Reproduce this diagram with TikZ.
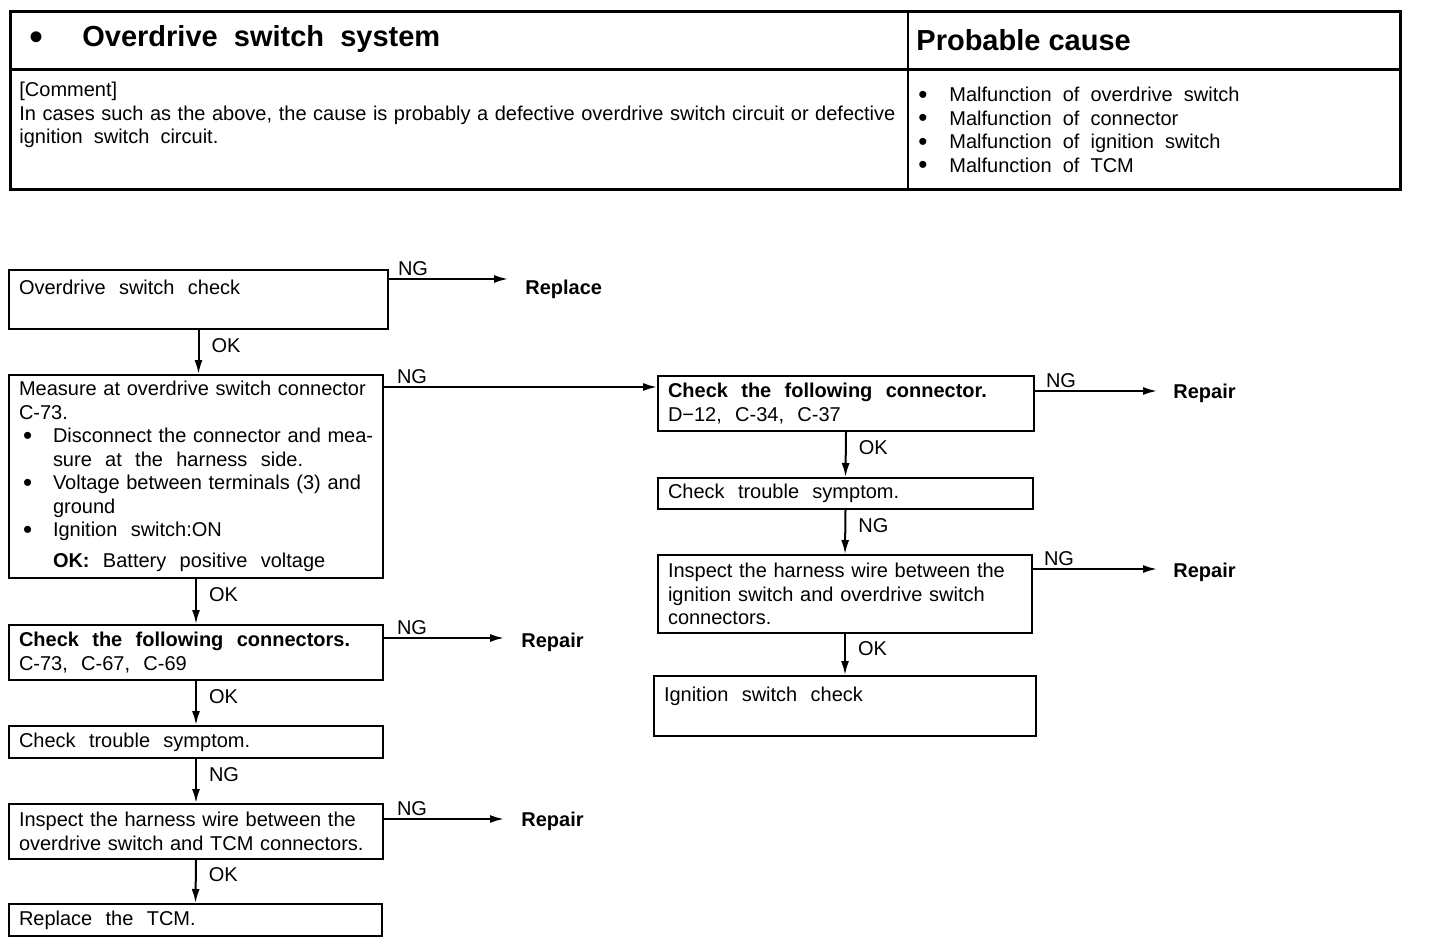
\documentclass[tikz,border=0pt]{standalone}
\usepackage{fontspec}
\setmainfont{Liberation Sans}
\usetikzlibrary{arrows.meta,positioning}

\newcommand{\jline}[2]{\makebox[#1][s]{#2}}
\newcommand{\dotmark}{\smash{\raisebox{-0.6pt}{\fontsize{13}{12}\selectfont\textbullet}}}
\newcommand{\bitem}{\hspace*{2pt}\makebox[15pt][l]{\dotmark}}
\newcommand{\bpad}{\hspace*{17pt}}

\tikzset{
  box/.style={draw, line width=1pt, anchor=north west, align=left,
    inner xsep=5pt, inner ysep=2pt, font=\fontsize{10}{11.75}\selectfont},
  flow/.style={line width=1pt, -{Latex[length=7pt,width=4pt]}},
  tag/.style={font=\fontsize{10}{12}\selectfont, inner sep=1pt},
  result/.style={font=\fontsize{10}{12}\selectfont\bfseries, anchor=west, inner sep=0pt},
  head/.style={font=\fontsize{14.5}{16}\selectfont\bfseries, inner sep=0pt},
  body/.style={font=\fontsize{10}{11.75}\selectfont, align=left, inner sep=0pt},
}

\begin{document}
\begin{tikzpicture}[x=0.5pt, y=-0.5pt]
\fill[white] (0,0) rectangle (1440,952);
\useasboundingbox (0,0) rectangle (1440,952);

% header table
\draw[line width=1.5pt] (10,12) rectangle (1400,190);
\draw[line width=1pt] (908,12) -- (908,190);
\draw[line width=1.5pt] (10,70) -- (1400,70);

\node[head, font=\fontsize{20}{20}\selectfont, anchor=base] (hdot) at (37,51) {\textbullet};
\node[head, anchor=base west] (htitle) at (82,47) {Overdrive\ \ switch\ \ system};
\node[head, anchor=base west] (hcause) at (916,51) {Probable cause};

\node[body, anchor=north west] (comment) at (19,82)
  {[Comment]\\
   \jline{438pt}{In cases such as the above, the cause is probably a defective overdrive switch circuit or defective}\\
   ignition\ \ switch\ \ circuit.};

\node[body, anchor=north west] (causes) at (918,87)
  {\makebox[15.5pt][l]{\dotmark}Malfunction\ \ of\ \ overdrive\ \ switch\\
   \makebox[15.5pt][l]{\dotmark}Malfunction\ \ of\ \ connector\\
   \makebox[15.5pt][l]{\dotmark}Malfunction\ \ of\ \ ignition\ \ switch\\
   \makebox[15.5pt][l]{\dotmark}Malfunction\ \ of\ \ TCM};

% left column
\node[box, minimum width=189.5pt, minimum height=29.5pt, text width=179.5pt] (swchk) at (8,269)
  {Overdrive\ \ switch\ \ check\\ \mbox{}};
\node[box, minimum width=187pt, minimum height=101.5pt, text width=177pt] (measure) at (8,374)
  {\jline{177pt}{Measure at overdrive switch connector}\\
   C-73.\\
   \bitem\jline{160pt}{Disconnect the connector and mea-}\\
   \bpad sure\ \ at\ \ the\ \ harness\ \ side.\\
   \bitem\jline{160pt}{Voltage between terminals (3) and}\\
   \bpad ground\\
   \bitem Ignition\ \ switch:ON\\[3.5pt]
   \bpad\textbf{OK:}\ \ Battery\ \ positive\ \ voltage};
\node[box, minimum width=187pt, minimum height=27.5pt, text width=177pt] (conn) at (8,624)
  {\textbf{Check\ \ the\ \ following\ \ connectors.}\\
   C-73,\ \ C-67,\ \ C-69};
\node[box, minimum width=187pt, minimum height=16pt, text width=177pt] (sympL) at (8,725)
  {Check\ \ trouble\ \ symptom.};
\node[box, minimum width=187pt, minimum height=27.5pt, text width=177pt] (wireL) at (8,803)
  {\jline{177pt}{Inspect the harness wire between the}\\
   \jline{177pt}{overdrive switch and TCM connectors.}};
\node[box, minimum width=186.5pt, minimum height=16pt, text width=176.5pt] (tcm) at (8,903)
  {Replace\ \ the\ \ TCM.};

% right column
\node[box, minimum width=188pt, minimum height=27.5pt, text width=178pt] (connR) at (657,375)
  {\textbf{Check\ \ the\ \ following\ \ connector.}\\
   D−12,\ \ C-34,\ \ C-37};
\node[box, minimum width=187.5pt, minimum height=15.5pt, text width=177.5pt] (sympR) at (657,477)
  {Check\ \ trouble\ \ symptom.};
\node[box, minimum width=187pt, minimum height=39pt, text width=177pt] (wireR) at (657,554)
  {\jline{177pt}{Inspect the harness wire between the}\\
   \jline{177pt}{ignition switch and overdrive switch}\\
   connectors.};
\node[box, minimum width=191pt, minimum height=30pt, text width=181pt] (ignchk) at (653,675)
  {Ignition\ \ switch\ \ check\\ \mbox{}};

% outcomes
\node[result] (rplc) at (525,289) {Replace};
\node[result] (rep1) at (521,642) {Repair};
\node[result] (rep2) at (521,821) {Repair};
\node[result] (rep3) at (1173,393) {Repair};
\node[result] (rep4) at (1173,572) {Repair};

% OK / NG downward
\draw[flow] (swchk.south) -- node[tag, pos=0.35, anchor=west, xshift=5pt] (ok1) {OK} (swchk.south |- measure.north);
\draw[flow] (measure.south) -- node[tag, pos=0.35, anchor=west, xshift=5pt] (ok2) {OK} (conn.north);
\draw[flow] (conn.south) -- node[tag, pos=0.35, anchor=west, xshift=5pt] (ok3) {OK} (sympL.north);
\draw[flow] (sympL.south) -- node[tag, pos=0.35, anchor=west, xshift=5pt] (ng1) {NG} (wireL.north);
\draw[flow] (wireL.south) -- node[tag, pos=0.35, anchor=west, xshift=5pt] (ok4) {OK} (tcm.north);
\draw[flow] (connR.south) -- node[tag, pos=0.35, anchor=west, xshift=5pt] (ok5) {OK} (sympR.north);
\draw[flow] (sympR.south) -- node[tag, pos=0.35, anchor=west, xshift=5pt] (ng2) {NG} (wireR.north);
\draw[flow] (wireR.south) -- node[tag, pos=0.35, anchor=west, xshift=5pt] (ok6) {OK} (wireR.south |- ignchk.north);

% NG sideways
\draw[flow, shorten >=8.5pt] ([yshift=-5pt]swchk.north east) -- node[tag, pos=0, anchor=south west, xshift=3pt] (ng3) {NG} ([yshift=-5pt]swchk.north east -| rplc.west);
\draw[flow] ([yshift=-6.5pt]measure.north east) -- node[tag, pos=0, anchor=south west, xshift=5pt] (ng4) {NG} ([yshift=-6.5pt]measure.north east -| connR.west);
\draw[flow, shorten >=8.5pt] ([yshift=-7pt]conn.north east) -- node[tag, pos=0, anchor=south west, xshift=5pt] (ng5) {NG} ([yshift=-7pt]conn.north east -| rep1.west);
\draw[flow, shorten >=8.5pt] ([yshift=-8pt]wireL.north east) -- node[tag, pos=0, anchor=south west, xshift=5pt] (ng6) {NG} ([yshift=-8pt]wireL.north east -| rep2.west);
\draw[flow, shorten >=8pt] ([yshift=-8pt]connR.north east) -- node[tag, pos=0, anchor=south west, xshift=4pt] (ng7) {NG} ([yshift=-8pt]connR.north east -| rep3.west);
\draw[flow, shorten >=8pt] ([yshift=-7.5pt]wireR.north east) -- node[tag, pos=0, anchor=south west, xshift=4pt] (ng8) {NG} ([yshift=-7.5pt]wireR.north east -| rep4.west);

\end{tikzpicture}
\end{document}
